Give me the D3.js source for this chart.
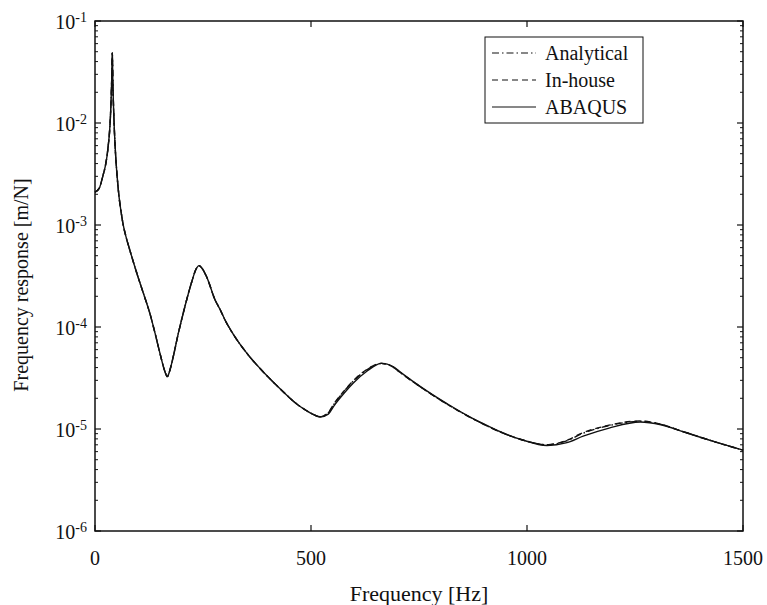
<!DOCTYPE html>
<html>
<head>
<meta charset="utf-8">
<script src="https://cdn.jsdelivr.net/npm/d3@7"></script>
<style>
  body { margin: 0; background: #fff; }
  svg text { font-family: "Liberation Serif", "Times New Roman", Times, "DejaVu Serif", serif; fill: #111; }
</style>
</head>
<body>
<div class="chart"></div>
<script>
// frequency response data
var freqs = [0, 10, 18, 24, 28, 31, 33.5, 35.5, 37, 38.5, 40, 41.5, 43, 44.5, 46.5, 49, 52, 55.6, 60, 65, 72,
  81, 96.5, 112, 127, 139, 150.5, 162, 167.4, 172, 177.5, 193, 208, 224, 234, 240.7, 247, 258.5, 278,
  289, 301, 324, 355, 393, 432, 470, 490, 505, 521, 540, 552, 575, 598, 630, 663, 690, 706, 740, 783,
  820, 860, 900, 938, 990, 1046, 1090, 1130, 1190, 1262, 1310, 1362, 1430, 1500];

var abaqus = [2.1e-3, 2.3e-3, 3.0e-3, 3.8e-3, 4.8e-3, 6.2e-3, 8.0e-3, 1.1e-2, 1.55e-2, 2.5e-2, 4.9e-2,
  2.3e-2, 1.4e-2, 9.2e-3, 6.0e-3, 4.0e-3, 2.75e-3, 1.9e-3, 1.38e-3, 1.02e-3, 7.6e-4,
  5.6e-4, 3.4e-4, 2.14e-4, 1.36e-4, 8.7e-5, 5.5e-5, 3.65e-5, 3.26e-5, 3.6e-5, 4.4e-5, 8.7e-5, 1.58e-4,
  2.78e-4, 3.7e-4, 4.0e-4, 3.8e-4, 3.1e-4, 1.84e-4,
  1.5e-4, 1.17e-4, 8.0e-5, 5.3e-5, 3.5e-5, 2.4e-5, 1.72e-5, 1.51e-5, 1.39e-5, 1.31e-5, 1.40e-5,
  1.66e-5, 2.2e-5, 2.82e-5, 3.7e-5, 4.4e-5, 4.1e-5, 3.63e-5, 2.85e-5, 2.15e-5,
  1.72e-5, 1.37e-5, 1.12e-5, 9.4e-6, 7.8e-6, 6.9e-6, 7.3e-6, 8.5e-6, 1.02e-5, 1.17e-5, 1.1e-5,
  9.4e-6, 7.6e-6, 6.2e-6];

var inhouse = [2.1e-3, 2.3e-3, 3.0e-3, 3.8e-3, 4.8e-3, 6.2e-3, 8.0e-3, 1.1e-2, 1.55e-2, 2.5e-2, 4.9e-2,
  2.3e-2, 1.4e-2, 9.2e-3, 6.0e-3, 4.0e-3, 2.75e-3, 1.9e-3, 1.38e-3, 1.02e-3, 7.6e-4,
  5.6e-4, 3.4e-4, 2.14e-4, 1.36e-4, 8.7e-5, 5.5e-5, 3.65e-5, 3.26e-5, 3.6e-5, 4.4e-5, 8.7e-5, 1.58e-4,
  2.78e-4, 3.7e-4, 4.0e-4, 3.8e-4, 3.1e-4, 1.84e-4,
  1.5e-4, 1.17e-4, 8.0e-5, 5.3e-5, 3.5e-5, 2.4e-5, 1.72e-5, 1.51e-5, 1.39e-5, 1.32e-5, 1.45e-5,
  1.74e-5, 2.32e-5, 2.98e-5, 3.85e-5, 4.4e-5, 4.05e-5, 3.6e-5, 2.83e-5, 2.13e-5,
  1.7e-5, 1.36e-5, 1.11e-5, 9.35e-6, 7.8e-6, 7.0e-6, 7.7e-6, 9.2e-6, 1.09e-5, 1.2e-5, 1.11e-5,
  9.4e-6, 7.6e-6, 6.2e-6];

var analytical = [2.1e-3, 2.3e-3, 3.0e-3, 3.8e-3, 4.8e-3, 6.2e-3, 8.0e-3, 1.1e-2, 1.55e-2, 2.5e-2, 4.9e-2,
  2.3e-2, 1.4e-2, 9.2e-3, 6.0e-3, 4.0e-3, 2.75e-3, 1.9e-3, 1.38e-3, 1.02e-3, 7.6e-4,
  5.6e-4, 3.4e-4, 2.14e-4, 1.36e-4, 8.7e-5, 5.5e-5, 3.65e-5, 3.26e-5, 3.6e-5, 4.4e-5, 8.7e-5, 1.58e-4,
  2.78e-4, 3.7e-4, 4.0e-4, 3.8e-4, 3.1e-4, 1.84e-4,
  1.5e-4, 1.17e-4, 8.0e-5, 5.3e-5, 3.5e-5, 2.4e-5, 1.72e-5, 1.51e-5, 1.39e-5, 1.32e-5, 1.44e-5,
  1.72e-5, 2.3e-5, 2.95e-5, 3.82e-5, 4.4e-5, 4.05e-5, 3.6e-5, 2.83e-5, 2.13e-5,
  1.7e-5, 1.36e-5, 1.11e-5, 9.35e-6, 7.8e-6, 7.0e-6, 7.6e-6, 9.1e-6, 1.08e-5, 1.19e-5, 1.11e-5,
  9.4e-6, 7.6e-6, 6.2e-6];

var seriesNames = ["Analytical", "In-house", "ABAQUS"];
var xTicks = [0, 500, 1000, 1500];
var yExponents = [-1, -2, -3, -4, -5, -6];

var svgWidth = 767;
var svgHeight = 605;
var margin = { top: 21, right: 24, bottom: 74, left: 95 };
var width = svgWidth - margin.left - margin.right;
var height = svgHeight - margin.top - margin.bottom;

var svg = d3.select(".chart")
    .append("svg")
    .attr("width", svgWidth)
    .attr("height", svgHeight);

var chartGroup = svg.append("g")
    .attr("transform", `translate(${margin.left}, ${margin.top})`);

var xScale = d3.scaleLinear().domain([0, 1500]).range([0, width]);
var yScale = d3.scaleLog().domain([1e-6, 1e-1]).range([height, 0]);

// minor + major ticks on left and right, inward
var minorVals = [];
for (var e = -6; e < -1; e++) {
    for (var m = 2; m <= 9; m++) minorVals.push(m * Math.pow(10, e));
}
[0, width].forEach(function (x0, i) {
    var dir = i === 0 ? 1 : -1;
    chartGroup.selectAll(null).data(minorVals).enter().append("line")
        .attr("x1", x0).attr("x2", x0 + dir * 3)
        .attr("y1", d => yScale(d)).attr("y2", d => yScale(d))
        .attr("stroke", "#111").attr("stroke-width", 1);
    chartGroup.selectAll(null).data(yExponents).enter().append("line")
        .attr("x1", x0).attr("x2", x0 + dir * 6)
        .attr("y1", d => yScale(Math.pow(10, d))).attr("y2", d => yScale(Math.pow(10, d)))
        .attr("stroke", "#111").attr("stroke-width", 1.2);
});

// x ticks at top and bottom, inward
[0, height].forEach(function (y0, i) {
    var dir = i === 0 ? 1 : -1;
    chartGroup.selectAll(null).data(xTicks).enter().append("line")
        .attr("x1", d => xScale(d)).attr("x2", d => xScale(d))
        .attr("y1", y0).attr("y2", y0 + dir * 6)
        .attr("stroke", "#111").attr("stroke-width", 1.2);
});

// x tick labels
chartGroup.selectAll(null).data(xTicks).enter().append("text")
    .attr("x", d => xScale(d))
    .attr("y", height + 34)
    .attr("text-anchor", "middle")
    .style("font-size", "20px")
    .text(d => d);

// y tick labels 10^n
var yLab = chartGroup.selectAll(null).data(yExponents).enter().append("text")
    .attr("x", -8)
    .attr("y", d => yScale(Math.pow(10, d)) + 8)
    .attr("text-anchor", "end")
    .style("font-size", "20px");
yLab.append("tspan").text("10");
yLab.append("tspan").attr("dy", -7).style("font-size", "14px").text(d => "-" + (-d));

// curves
var line = d3.line()
    .x(d => xScale(d[0]))
    .y(d => yScale(d[1]))
    .curve(d3.curveMonotoneX);

var dashes = ["7,3,1.5,3", "6,4", null];
[analytical, inhouse, abaqus].forEach(function (vals, i) {
    chartGroup.append("path")
        .datum(freqs.map((f, j) => [f, vals[j]]))
        .attr("d", line)
        .attr("fill", "none")
        .attr("stroke", "#111")
        .attr("stroke-width", 1.4)
        .attr("stroke-dasharray", dashes[i]);
});

// frame
chartGroup.append("rect")
    .attr("width", width).attr("height", height)
    .attr("fill", "none").attr("stroke", "#111").attr("stroke-width", 1.5);

// legend
var legend = chartGroup.append("g").attr("transform", "translate(390, 16)");
legend.append("rect")
    .attr("width", 158).attr("height", 86)
    .attr("fill", "#fff").attr("stroke", "#111").attr("stroke-width", 1);
seriesNames.forEach(function (name, i) {
    var yy = 16 + i * 27;
    legend.append("line")
        .attr("x1", 7).attr("x2", 51).attr("y1", yy).attr("y2", yy)
        .attr("stroke", "#111").attr("stroke-width", 1.2)
        .attr("stroke-dasharray", dashes[i]);
    legend.append("text")
        .attr("x", 60).attr("y", yy + 7)
        .style("font-size", "20px")
        .text(name);
});

// axis labels
chartGroup.append("text")
    .attr("x", width / 2)
    .attr("y", height + 70)
    .attr("text-anchor", "middle")
    .style("font-size", "22px")
    .text("Frequency [Hz]");

chartGroup.append("text")
    .attr("transform", `translate(${-67}, ${264}) rotate(-90)`)
    .attr("text-anchor", "middle")
    .style("font-size", "20px")
    .text("Frequency response [m/N]");
</script>
</body>
</html>
